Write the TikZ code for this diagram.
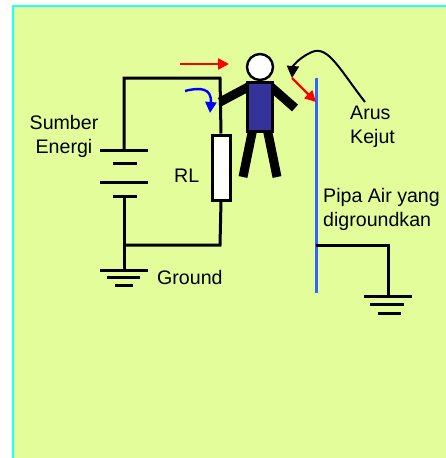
\documentclass[tikz,border=0pt]{standalone}
\usepackage{fontspec}
\setmainfont{Liberation Sans}
\usetikzlibrary{arrows.meta}
\definecolor{panel}{HTML}{E4FD9B}
\definecolor{framecyan}{HTML}{22FFFF}
\definecolor{shirt}{HTML}{333399}
\definecolor{pipeblue}{HTML}{3366FF}
\tikzset{
  wire/.style={line width=3pt, black},
  limb/.style={line width=9pt, black},
  label/.style={font=\fontsize{19.6pt}{24pt}\selectfont, inner sep=0pt},
  flow/.style={line width=2.4pt, -{Triangle[length=11pt,width=11pt]}},
}
\begin{document}
\begin{tikzpicture}[x=1pt,y=-1pt]
  \useasboundingbox (0,0) rectangle (445,458);
  % panel
  \fill[white] (0,0) rectangle (445,458);
  \draw[framecyan, line width=2.4pt, fill=panel] (13,6) rectangle (450,470);

  % source loop and load
  \coordinate (tl) at (124,78);
  \coordinate (tr) at (220,78);
  \coordinate (bl) at (124,245);
  \coordinate (br) at (220,245);
  \coordinate (hand) at (220,102);
  \node[draw=black, line width=3pt, fill=white, minimum width=18pt, minimum height=65pt, inner sep=0pt] (rl) at (221,167.5) {};
  \draw[wire] (124,150) -- (tl) -- (tr) -- (rl.north);
  \draw[wire] (rl.south) -- (br) -- (bl);
  \draw[wire] (124,197) -- (124,270);

  % battery plates
  \draw[wire] (100,150) -- (148,150);
  \draw[wire] (113,163) -- (137,163);
  \draw[wire] (100,182) -- (148,182);
  \draw[wire] (113,196) -- (137,196);

  % ground at source
  \draw[wire] (100,270) -- (148,270);
  \draw[wire] (107,277.5) -- (140,277.5);
  \draw[wire] (115,285) -- (133,285);

  % person
  \draw[limb] (hand) -- (250,86);
  \draw[limb] (270,86) -- (295,108);
  \draw[limb] (253,128) -- (243,177);
  \draw[limb] (267,128) -- (277,177);
  \node[draw=black, line width=2.4pt, fill=shirt, minimum width=25pt, minimum height=49pt, inner sep=0pt] (body) at (260,107) {};
  \node[draw=black, line width=2.4pt, fill=white, circle, minimum size=26pt, inner sep=0pt] (head) at (260,67) {};

  % grounded water pipe
  \coordinate (ptop) at (316,78);
  \coordinate (pbot) at (316,293);
  \coordinate (pj) at (316,245);
  \coordinate (pc) at (388,245);
  \coordinate (pg) at (388,296);
  \draw[pipeblue, line width=3pt] (ptop) -- (pbot);
  \draw[wire] (pj) -- (pc) -- (pg);
  \draw[wire] (364,296) -- (412,296);
  \draw[wire] (370,304.5) -- (404,304.5);
  \draw[wire] (378,313) -- (401,313);

  % current arrows
  \draw[flow, red] (180,64) -- (229,64);
  \draw[flow, blue] (185,91) .. controls (200,87) and (212,88) .. (210,113);
  \draw[flow, red] (292,78) -- (316,102);
  \draw[line width=2pt, -{Triangle[length=12pt,width=12pt]}] (365,102) .. controls (340,70) and (328,45) .. (312,52) .. controls (302,56) and (293,65) .. (292,78);

  % labels
  \node[label, align=center] (src) at (64,136) {Sumber\\Energi};
  \node[label, anchor=west] (rltxt) at (174,176) {RL};
  \node[label, anchor=west] (gnd) at (157,277) {Ground};
  \node[label, anchor=west, align=left] (shock) at (350,126.5) {Arus\\Kejut};
  \node[label, anchor=west, align=left] (pipe) at (323,209.5) {Pipa Air yang\\digroundkan};
\end{tikzpicture}
\end{document}
